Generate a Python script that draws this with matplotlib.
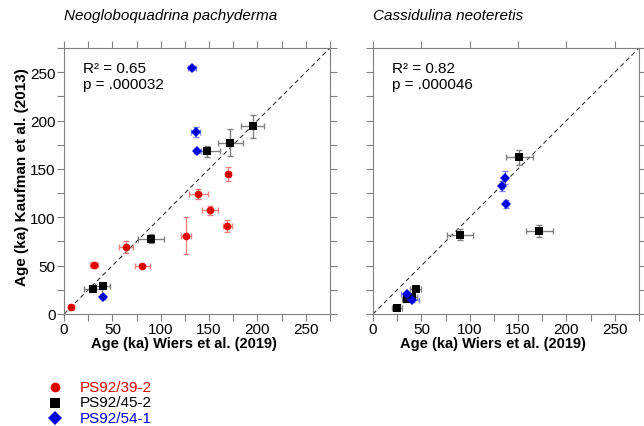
import numpy as np
import matplotlib
matplotlib.use("Agg")
import matplotlib.pyplot as plt
from matplotlib.ticker import MultipleLocator

plt.rcParams['font.family'] = ['Liberation Sans', 'DejaVu Sans']

## -----------------------------------------------
# DATA
## -----------------------------------------------
# Neogloboquadrina pachyderma
np_red_x = [7, 31, 64, 81, 126, 139, 151, 170, 169]
np_red_y = [7, 51, 69, 50, 81, 124, 107, 145, 91]
np_red_xerr = [3, 4, 7, 8, 5, 10, 8, 3, 5]
np_red_yerr = [2, 3, 6, 2, 19, 5, 5, 7, 6]

np_blk_x = [30, 40, 90, 148, 172, 195]
np_blk_y = [26, 29, 78, 168, 177, 194]
np_blk_xerr = [9, 8, 13, 13, 13, 12]
np_blk_yerr = [2, 2, 5, 6, 14, 12]

np_blu_x = [40, 132, 136, 138]
np_blu_y = [18, 254, 188, 168]
np_blu_xerr = [2, 4, 5, 4]
np_blu_yerr = [2, 2, 5, 2]

# Cassidulina neoteretis
cn_blk_x = [151, 90, 172, 44, 40, 35, 25]
cn_blk_y = [162, 82, 86, 26, 18, 16, 6]
cn_blk_xerr = [14, 13, 14, 6, 6, 5, 5]
cn_blk_yerr = [8, 6, 6, 2, 2, 2, 2]

cn_blu_x = [136, 133, 138, 35, 40]
cn_blu_y = [141, 132, 114, 21, 14]
cn_blu_xerr = [2, 2, 2, 6, 8]
cn_blu_yerr = [7, 5, 4, 2, 2]

titles = ["Neogloboquadrina pachyderma", "Cassidulina neoteretis"]
r2_text = ["R\u00b2 = 0.65\np = .000032", "R\u00b2 = 0.82\np = .000046"]
labels = ["PS92/39-2", "PS92/45-2", "PS92/54-1"]

RED = '#e00000'
BLK = '#000000'
BLU = '#0000e0'
ERR = {RED: '#f08080', BLK: '#808080', BLU: '#8080f0'}


def draw(ax, x, y, xerr, yerr, color, marker, ms):
    ax.errorbar(x, y, xerr=xerr, yerr=yerr, fmt='none', ecolor=ERR[color],
                elinewidth=1, capsize=2, capthick=1, zorder=2)
    ax.plot(x, y, linestyle='none', marker=marker, color=color,
            markersize=ms, markeredgewidth=0, zorder=3)


fig = plt.figure(figsize=(6.44, 4.27), dpi=100)
ax1 = fig.add_axes([0.0994, 0.2623, 0.413, 0.623])
ax2 = fig.add_axes([0.5792, 0.2623, 0.413, 0.623])

for i, ax in enumerate([ax1, ax2]):
    ax.plot([0, 275], [0, 275], linestyle=(0, (4, 3)), color='#333333', lw=0.8, zorder=1)
    ax.set_xlim(0, 275)
    ax.set_ylim(0, 275)
    ax.xaxis.set_major_locator(MultipleLocator(50))
    ax.xaxis.set_minor_locator(MultipleLocator(25))
    ax.yaxis.set_major_locator(MultipleLocator(50))
    ax.yaxis.set_minor_locator(MultipleLocator(25))
    if i == 1:
        ax.set_yticklabels([])
    ax.tick_params(which='both', direction='out', length=5, width=0.8, color='#808080',
                   labelsize=11, top=True, right=True, pad=1)
    for sp in ax.spines.values():
        sp.set_color('#808080')
        sp.set_linewidth(0.8)
    ax.set_title(titles[i], loc='left', style='italic', fontsize=11, pad=21)
    ax.text(0.07, 0.95, r2_text[i], transform=ax.transAxes, fontsize=11,
            va='top', ha='left', linespacing=1.2)
    ax.set_xlabel("Age (ka) Wiers et al. (2019)", fontweight='bold', fontsize=10.5)
    ax.xaxis.set_label_coords(0.45, -0.082)

# right panel has only major ticks along the top
ax2.tick_params(which='minor', top=False)

ax1.set_ylabel("Age (ka) Kaufman et al. (2013)", fontweight='bold', fontsize=11)
ax1.yaxis.set_label_coords(-0.13, 0.52)

draw(ax1, np_red_x, np_red_y, np_red_xerr, np_red_yerr, RED, 'o', 5.5)
draw(ax1, np_blk_x, np_blk_y, np_blk_xerr, np_blk_yerr, BLK, 's', 5.5)
draw(ax1, np_blu_x, np_blu_y, np_blu_xerr, np_blu_yerr, BLU, 'D', 5)

draw(ax2, cn_blk_x, cn_blk_y, cn_blk_xerr, cn_blk_yerr, BLK, 's', 5.5)
draw(ax2, cn_blu_x, cn_blu_y, cn_blu_xerr, cn_blu_yerr, BLU, 'D', 5)

# legend drawn by hand below the left panel
leg = fig.add_axes([0, 0, 1, 1], facecolor='none')
leg.set_axis_off()
leg.set_xlim(0, 644)
leg.set_ylim(427, 0)
for j, (lab, col, mk) in enumerate(zip(labels, [RED, BLK, BLU], ['o', 's', 'D'])):
    yy = 388 + j * 15.5
    leg.plot([55], [yy], marker=mk, color=col, markersize=7, markeredgewidth=0,
             linestyle='none')
    leg.text(80, yy, lab, color=col, fontsize=11, va='center', ha='left')

fig.savefig("out.png", dpi=100)
